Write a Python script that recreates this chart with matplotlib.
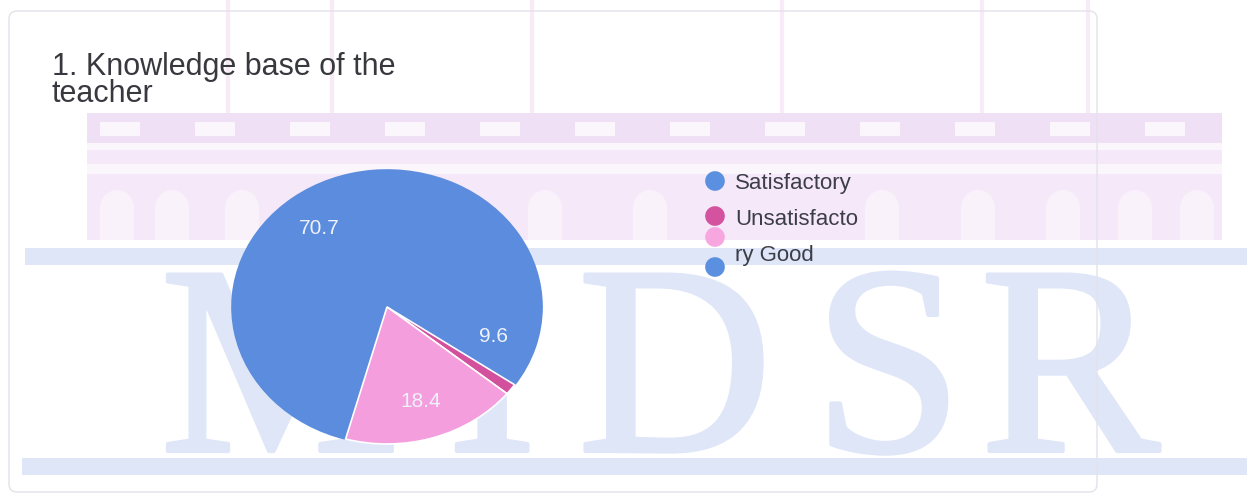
import matplotlib
matplotlib.use("Agg")
import matplotlib.pyplot as plt
import matplotlib.patheffects as pe
from matplotlib.patches import Rectangle, FancyBboxPatch, Ellipse

# data
values = [70.7, 9.6, 1.3, 18.4]
colors = ["#5b8cdd", "#5b8cdd", "#d2509c", "#f59ede"]
legend_colors = ["#5b8fe0", "#d4539e", "#f8a6e0", "#5b8fe0"]
legend_lines = ["Satisfactory", "Unsatisfacto", "ry Good"]
title_lines = ["1. Knowledge base of the", "teacher"]

W, H = 1247, 495
fig = plt.figure(figsize=(W / 100, H / 100), dpi=100)
fig.patch.set_facecolor("white")

# background axes in pixel coordinates (watermark, card, title, legend)
bg = fig.add_axes([0, 0, 1, 1])
bg.set_xlim(0, W)
bg.set_ylim(H, 0)
bg.axis("off")

wm_blue = "#dfe6f8"
lav = "#f5e9f9"
lav_dark = "#f0e0f6"

# faint roof lines
for x in [228, 332, 532, 782, 982, 1088]:
    bg.plot([x, x], [0, 113], color="#f9eaf8", lw=3, zorder=0)

# building block
bg.add_patch(Rectangle((87, 113), 1135, 127, color=lav, lw=0, zorder=0))
bg.add_patch(Rectangle((87, 113), 1135, 30, color=lav_dark, lw=0, zorder=0))
for x0 in range(100, 1200, 95):
    bg.add_patch(Rectangle((x0, 122), 40, 14, color="#fbf6fc", lw=0, zorder=0))
bg.add_patch(Rectangle((87, 143), 1135, 7, color="#fbf5fc", lw=0, zorder=0))
bg.add_patch(Rectangle((87, 164), 1135, 10, color="#fbf5fc", lw=0, zorder=0))
for xc in [117, 172, 242, 545, 650, 882, 978, 1063, 1135, 1197]:
    bg.add_patch(Rectangle((xc - 17, 208), 34, 32, color="#f9f2fb", lw=0, zorder=0))
    bg.add_patch(Ellipse((xc, 208), 34, 36, color="#f9f2fb", lw=0, zorder=0))

# blue bands
bg.add_patch(Rectangle((25, 248), W - 25, 17, color=wm_blue, lw=0, zorder=0))
bg.add_patch(Rectangle((22, 458), W - 22, 17, color=wm_blue, lw=0, zorder=0))

# watermark letters
for ch, xc in zip("MIDSR", [280, 492, 675, 888, 1070]):
    bg.text(xc, 451, ch, fontsize=194, family="Liberation Serif",
            color=wm_blue, ha="center", va="baseline", zorder=0,
            path_effects=[pe.withStroke(linewidth=3, foreground=wm_blue)])

# card border
bg.add_patch(FancyBboxPatch((9, 11), 1088, 481, boxstyle="round,pad=0,rounding_size=8",
                            fill=False, ec="#e2e2ea", lw=1, zorder=1))

# title
bg.text(52, 75, title_lines[0], fontsize=22, family="Liberation Sans",
        color="#38383f", va="baseline", zorder=3)
bg.text(52, 102, title_lines[1], fontsize=22, family="Liberation Sans",
        color="#38383f", va="baseline", zorder=3)

# legend
bg.scatter([715] * 4, [181, 216, 237, 267], s=200, c=legend_colors, lw=0, zorder=3)
for txt, yb in zip(legend_lines, [189, 225, 261]):
    bg.text(735, yb, txt, fontsize=16, family="Liberation Sans",
            color="#3d3d48", va="baseline", zorder=3)

# pie
ax = fig.add_axes([232 / W, 51 / H, 310 / W, 274 / H])
ax.patch.set_alpha(0)
wedges, texts, autotexts = ax.pie(
    values, colors=colors, startangle=254.5, counterclock=False,
    autopct=lambda p: f"{p:.1f}" if p > 5 else "", pctdistance=0.72,
    wedgeprops=dict(edgecolor="white", linewidth=1.2),
    textprops=dict(color="#eef2fb", fontsize=15, family="Liberation Sans"))
for w in wedges[:2]:
    w.set_edgecolor(w.get_facecolor())
ax.set_aspect("auto")
ax.set_xlim(-1, 1)
ax.set_ylim(-1, 1)
ax.axis("off")

fig.savefig("out.png", dpi=100)
